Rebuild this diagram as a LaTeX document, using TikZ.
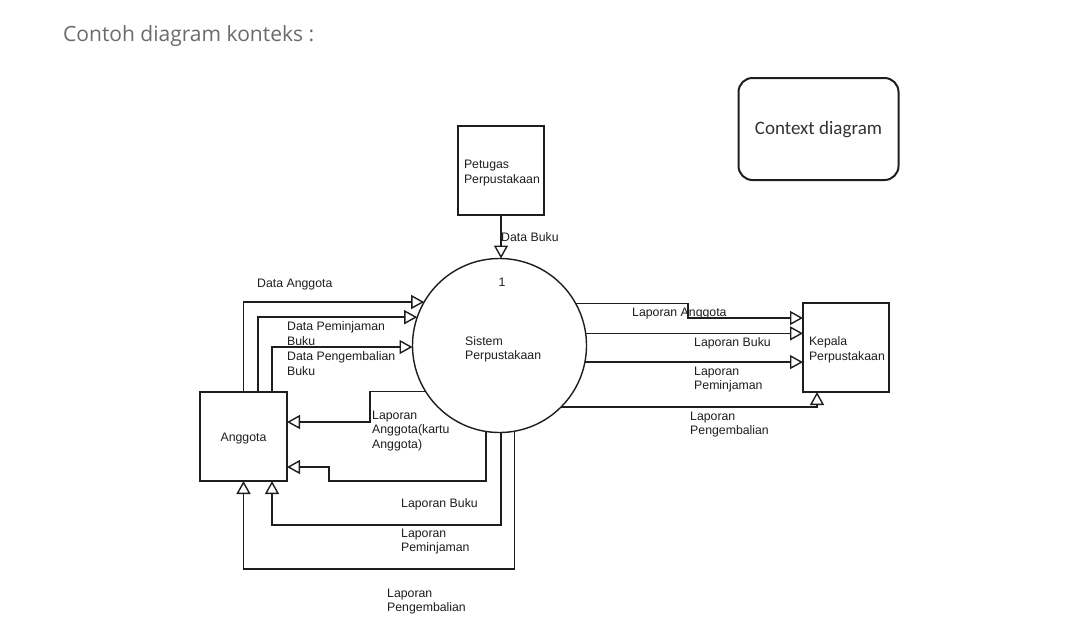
\documentclass[tikz,border=0pt]{standalone}
\usepackage{fontspec}
\setmainfont{Liberation Sans}
\newfontfamily\titlefont{Open Sans}
\newfontfamily\ctxfont{Carlito}
\usetikzlibrary{arrows.meta,calc}
\definecolor{titlegray}{HTML}{6B6B6B}
\definecolor{ink}{HTML}{1E1E1E}
\definecolor{ctxtext}{HTML}{333333}
\newcommand\dfont{\fontsize{12.3}{14.5}\selectfont}
\newcommand\lowertext[2]{\raisebox{-#1}[\height][\depth]{#2}}
\begin{document}
\begin{tikzpicture}[x=1pt,y=-1pt,
  ent/.style={draw=ink,line width=1.4pt,rectangle,minimum width=86pt,minimum height=89pt,inner sep=0pt,outer sep=0pt,align=left,font=\dfont,text=ink},
  proc/.style={draw=ink,line width=1.4pt,circle,minimum size=174pt,inner sep=0pt,outer sep=0pt},
  flow/.style={draw=ink,line width=1.4pt,-{Triangle[open,length=13pt,width=14pt,fill=white]}},
  lbl/.style={font=\dfont,inner sep=0pt,anchor=base west,align=left,text=ink},
]
\useasboundingbox (0,0) rectangle (1081,630);
\fill[white] (0,0) rectangle (1081,630);

% title and legend box
\node[font=\titlefont\fontsize{21}{24}\selectfont, text=titlegray, anchor=base west, inner sep=0pt] (title) at (63,41.5) {Contoh diagram konteks :};
\node[draw=ink, line width=2pt, rounded corners=14pt, minimum width=160pt, minimum height=102pt, font=\ctxfont\fontsize{19}{22}\selectfont, text=ctxtext] (ctx) at (818.5,129) {\lowertext{1pt}{Context diagram}};

% entities and process
\node[ent] (pet) at (501,170.5) {\lowertext{2.5pt}{\parbox{74pt}{Petugas\\Perpustakaan}}};
\node[ent] (kep) at (846,347.5) {\lowertext{2.5pt}{\parbox{74pt}{Kepala\\Perpustakaan}}};
\node[ent, minimum width=87pt] (ang) at (243.5,436.5) {\lowertext{2pt}{Anggota}};
\node[proc] (c) at (499.5,345.5) {};
\node[lbl, anchor=base] (one) at (502,286) {1};
\node[lbl] (sis) at (465,359.5) {Sistem\\Perpustakaan};

% Petugas -> Sistem
\draw[flow] (pet.south) -- (pet.south |- c.north);

% Anggota -> Sistem
\draw[flow] (ang.north) |- (c.150.8);
\draw[flow] ([xshift=14.5pt]ang.north) |- (c.161.6);
\draw[flow] ([xshift=28.5pt]ang.north) |- (c.181.6);

% Sistem -> Anggota
\draw[flow] (c.212.3) -| (370,422) -- (ang.east |- 370,422);
\draw[flow] (c.261.7) |- (329,481) |- (ang.east |- 329,467);
\draw[flow] (c.271.6) |- (272,525) -- ([xshift=28.5pt]ang.south);
\draw[flow] (c.280.9) |- (243.5,569) -- (ang.south);

% Sistem -> Kepala
\draw[flow] (c.29.2) -| (688,318) -- (kep.west |- 688,318);
\draw[flow] (c.8.3) -- (kep.west |- c.8.3);
\draw[flow] (c.-11.6) -- (kep.west |- c.-11.6);
\draw[flow] (c.-45) -| ([xshift=-29pt]kep.south);

% labels
\node[lbl] (l1) at (501,241) {Data Buku};
\node[lbl] (l2) at (257,287) {Data Anggota};
\node[lbl] (l3) at (287,345) {Data Peminjaman\\Buku};
\node[lbl] (l4) at (287,375) {Data Pengembalian\\Buku};
\node[lbl] (l5) at (372,448) {Laporan\\Anggota(kartu\\Anggota)};
\node[lbl] (l6) at (401,507) {Laporan Buku};
\node[lbl] (l7) at (401,551.5) {Laporan\\Peminjaman};
\node[lbl] (l8) at (387,611.5) {Laporan\\Pengembalian};
\node[lbl] (l9) at (632,316) {Laporan Anggota};
\node[lbl] (l10) at (694,346) {Laporan Buku};
\node[lbl] (l11) at (694,389.5) {Laporan\\Peminjaman};
\node[lbl] (l12) at (690,434.5) {Laporan\\Pengembalian};
\end{tikzpicture}
\end{document}
